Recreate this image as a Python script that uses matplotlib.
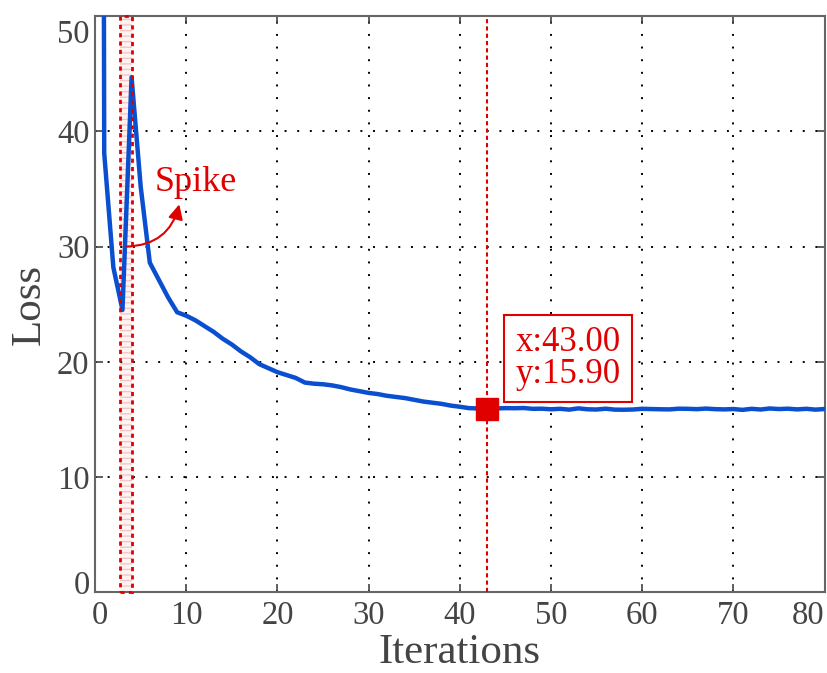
import numpy as np
import matplotlib.pyplot as plt
import matplotlib.transforms as mtransforms
from matplotlib.patches import Rectangle

plt.rcParams['font.family'] = ['Liberation Serif', 'DejaVu Serif']

# loss per iteration (first value is far off the top of the chart)
iterations = np.arange(0, 81)
loss = [400, 38.1, 28.2, 24.5, 44.7, 35.2, 28.6, 27.1, 25.6, 24.3,
        24.0, 23.6, 23.1, 22.6, 22.0, 21.5, 20.9, 20.4, 19.8, 19.45,
        19.1, 18.85, 18.6, 18.2, 18.1, 18.05, 17.95, 17.8, 17.6, 17.45,
        17.3, 17.2, 17.05, 16.95, 16.85, 16.7, 16.55, 16.45, 16.35, 16.2,
        16.1, 15.98, 15.95, 15.9, 15.95, 15.98, 15.97, 15.99, 15.92, 15.93,
        15.88, 15.92, 15.85, 15.96, 15.88, 15.86, 15.93, 15.85, 15.84, 15.86,
        15.92, 15.9, 15.88, 15.87, 15.93, 15.92, 15.89, 15.94, 15.89, 15.87,
        15.9, 15.83, 15.92, 15.86, 15.95, 15.9, 15.93, 15.87, 15.92, 15.85,
        15.9]

spike_range = (2.7, 4.1)
spike_label = 'Spike'
pick_x = 43
pick_y = 15.90

xticks = [0, 10, 20, 30, 40, 50, 60, 70, 80]
yticks = [0, 10, 20, 30, 40, 50]

grey = '#444444'
red = '#e00000'
blue = '#0a4fcf'

fig = plt.figure(figsize=(8.27, 6.73), dpi=100)
ax = fig.add_axes([0.115, 0.12, 0.882, 0.856])

# spike highlight
ax.add_patch(Rectangle((spike_range[0], 0), spike_range[1] - spike_range[0], 50,
                       facecolor='#fff4f4', edgecolor='#f7c4c4', hatch='---',
                       lw=0, zorder=1))
ax.add_patch(Rectangle((spike_range[0], 0), spike_range[1] - spike_range[0], 50,
                       facecolor='none', edgecolor=red, linestyle=(0, (1.5, 1.5)),
                       lw=2, zorder=4, clip_on=False))

ax.plot(iterations, loss, color=blue, lw=3.2, zorder=3, solid_joinstyle='round')

# data tip
ax.axvline(pick_x, color=red, lw=1.5, linestyle=(0, (2, 1.5)), zorder=4)
ax.plot([pick_x], [pick_y], 's', color=red, markersize=16, zorder=5)
ax.text(46.1, 20.3, f'x:{pick_x:.2f}\ny:{pick_y:.2f}',
        color=red, fontsize=25, linespacing=0.95, va='center', ha='left', zorder=6,
        bbox=dict(boxstyle='square,pad=0.32', facecolor='white', edgecolor=red, lw=1.5))

ax.annotate('', xy=(9.3, 33.9), xytext=(3.2, 30.0),
            arrowprops=dict(arrowstyle='-|>', color=red, lw=1.5, mutation_scale=22,
                            connectionstyle='arc3,rad=0.4'), zorder=6)
ax.text(11.0, 35.6, spike_label, color=red, fontsize=26, ha='center', va='center')

ax.set_xlim(0, 80)
ax.set_ylim(0, 50)
ax.set_xticks(xticks)
ax.set_yticks(yticks)
ax.grid(True, color='black', linestyle=(0, (1, 5.5)), lw=1.4)
ax.tick_params(direction='in', length=6, width=1.2, colors=grey, labelsize=23.5,
               top=True, right=True)
ax.tick_params(axis='x', pad=6)
ax.tick_params(axis='y', pad=4)
for s in ax.spines.values():
    s.set_color('#666666')
    s.set_linewidth(1.5)

ax.set_xlabel('Iterations', fontsize=31, color=grey, labelpad=2)
ax.set_ylabel('Loss', fontsize=31, color=grey, labelpad=6)

# nudge the end tick labels inside like the original export
fig.canvas.draw()
xl = ax.get_xticklabels()
xl[0].set_transform(xl[0].get_transform() + mtransforms.ScaledTranslation(5 / 100, 0, fig.dpi_scale_trans))
xl[-1].set_transform(xl[-1].get_transform() + mtransforms.ScaledTranslation(-16 / 100, 0, fig.dpi_scale_trans))
yl = ax.get_yticklabels()
yl[0].set_transform(yl[0].get_transform() + mtransforms.ScaledTranslation(0, 10 / 100, fig.dpi_scale_trans))
yl[-1].set_transform(yl[-1].get_transform() + mtransforms.ScaledTranslation(0, -15 / 100, fig.dpi_scale_trans))

fig.savefig('out.png', dpi=100)
